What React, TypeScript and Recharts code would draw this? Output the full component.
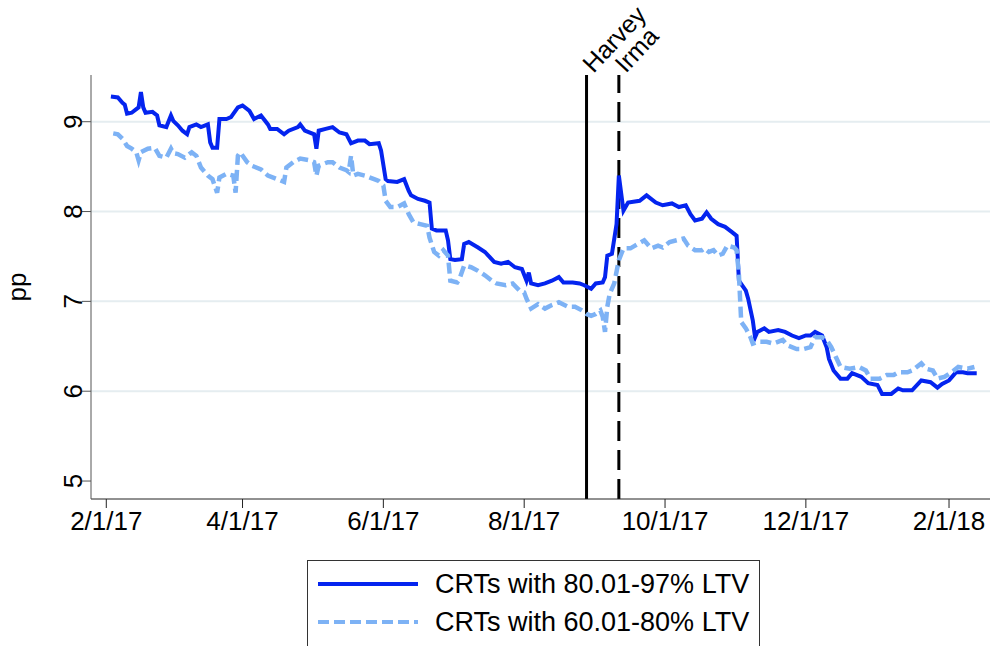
import {
  CartesianGrid,
  Legend,
  Line,
  LineChart,
  ReferenceLine,
  XAxis,
  YAxis,
} from "recharts";

// CRTs with 80.01-97% LTV
const highLtvDates = [
  "2017-02-03", "2017-02-06", "2017-02-08", "2017-02-09", "2017-02-10", "2017-02-12",
  "2017-02-14", "2017-02-15", "2017-02-16", "2017-02-17", "2017-02-18", "2017-02-21",
  "2017-02-23", "2017-02-24", "2017-02-27", "2017-03-01", "2017-03-02", "2017-03-04",
  "2017-03-06", "2017-03-08", "2017-03-09", "2017-03-12", "2017-03-14", "2017-03-17",
  "2017-03-18", "2017-03-19", "2017-03-21", "2017-03-22", "2017-03-25", "2017-03-27",
  "2017-03-30", "2017-04-01", "2017-04-04", "2017-04-06", "2017-04-09", "2017-04-12",
  "2017-04-13", "2017-04-16", "2017-04-19", "2017-04-21", "2017-04-25", "2017-04-26",
  "2017-04-28", "2017-05-02", "2017-05-03", "2017-05-04", "2017-05-07", "2017-05-10",
  "2017-05-13", "2017-05-16", "2017-05-18", "2017-05-21", "2017-05-24", "2017-05-26",
  "2017-05-30", "2017-05-31", "2017-06-02", "2017-06-03", "2017-06-07", "2017-06-10",
  "2017-06-12", "2017-06-13", "2017-06-16", "2017-06-19", "2017-06-21", "2017-06-22",
  "2017-06-24", "2017-06-28", "2017-06-29", "2017-06-30", "2017-07-02", "2017-07-05",
  "2017-07-06", "2017-07-08", "2017-07-12", "2017-07-15", "2017-07-19", "2017-07-22",
  "2017-07-25", "2017-07-28", "2017-07-31", "2017-08-02", "2017-08-03", "2017-08-04",
  "2017-08-07", "2017-08-10", "2017-08-13", "2017-08-16", "2017-08-18", "2017-08-22",
  "2017-08-25", "2017-08-27", "2017-08-30", "2017-09-01", "2017-09-04", "2017-09-05",
  "2017-09-06", "2017-09-08", "2017-09-10", "2017-09-11", "2017-09-13", "2017-09-15",
  "2017-09-20", "2017-09-23", "2017-09-27", "2017-09-30", "2017-10-04", "2017-10-07",
  "2017-10-10", "2017-10-12", "2017-10-14", "2017-10-17", "2017-10-19", "2017-10-21",
  "2017-10-24", "2017-10-27", "2017-10-30", "2017-11-01", "2017-11-02", "2017-11-05",
  "2017-11-06", "2017-11-08", "2017-11-09", "2017-11-10", "2017-11-13", "2017-11-15",
  "2017-11-19", "2017-11-22", "2017-11-25", "2017-11-28", "2017-12-01", "2017-12-03",
  "2017-12-05", "2017-12-08", "2017-12-10", "2017-12-11", "2017-12-13", "2017-12-16",
  "2017-12-19", "2017-12-21", "2017-12-25", "2017-12-28", "2018-01-01", "2018-01-03",
  "2018-01-07", "2018-01-10", "2018-01-12", "2018-01-16", "2018-01-20", "2018-01-24",
  "2018-01-27", "2018-01-29", "2018-02-01", "2018-02-04", "2018-02-07", "2018-02-09",
  "2018-02-13",
];
const highLtvValues = [
  9.28, 9.27, 9.21, 9.19, 9.09, 9.1,
  9.14, 9.16, 9.33, 9.16, 9.1, 9.11,
  9.07, 8.96, 8.94, 9.07, 9.01, 8.96,
  8.9, 8.86, 8.94, 8.97, 8.94, 8.97,
  8.77, 8.71, 8.71, 9.03, 9.03, 9.05,
  9.16, 9.18, 9.12, 9.03, 9.07, 8.97,
  8.92, 8.92, 8.86, 8.9, 8.94, 8.97,
  8.9, 8.86, 8.7, 8.9, 8.92, 8.94,
  8.88, 8.86, 8.76, 8.79, 8.79, 8.75,
  8.76, 8.68, 8.36, 8.34, 8.33, 8.36,
  8.23, 8.18, 8.14, 8.12, 8.1, 7.81,
  7.79, 7.79, 7.68, 7.47, 7.46, 7.47,
  7.64, 7.66, 7.6, 7.55, 7.44, 7.42,
  7.44, 7.38, 7.36, 7.23, 7.32, 7.2,
  7.18, 7.2, 7.23, 7.27, 7.21, 7.21,
  7.2, 7.18, 7.14, 7.2, 7.21, 7.27,
  7.51, 7.53, 7.86, 8.4, 8.01, 8.1,
  8.12, 8.18, 8.1, 8.07, 8.09, 8.05,
  8.07, 7.97, 7.9, 7.92, 7.99, 7.92,
  7.86, 7.83, 7.77, 7.73, 7.23, 7.12,
  7.03, 6.79, 6.6, 6.66, 6.7, 6.66,
  6.68, 6.66, 6.62, 6.59, 6.62, 6.62,
  6.66, 6.62, 6.49, 6.36, 6.23, 6.14,
  6.14, 6.2, 6.16, 6.09, 6.07, 5.97,
  5.97, 6.03, 6.01, 6.01, 6.12, 6.1,
  6.04, 6.08, 6.12, 6.21, 6.21, 6.2,
  6.2,
];

// CRTs with 60.01-80% LTV
const lowLtvDates = [
  "2017-02-04", "2017-02-06", "2017-02-08", "2017-02-10", "2017-02-12", "2017-02-14",
  "2017-02-15", "2017-02-16", "2017-02-19", "2017-02-22", "2017-02-24", "2017-02-27",
  "2017-03-01", "2017-03-02", "2017-03-04", "2017-03-07", "2017-03-10", "2017-03-12",
  "2017-03-14", "2017-03-17", "2017-03-19", "2017-03-21", "2017-03-22", "2017-03-25",
  "2017-03-28", "2017-03-29", "2017-03-30", "2017-03-31", "2017-04-03", "2017-04-05",
  "2017-04-09", "2017-04-12", "2017-04-16", "2017-04-19", "2017-04-20", "2017-04-23",
  "2017-04-26", "2017-04-30", "2017-05-02", "2017-05-03", "2017-05-04", "2017-05-08",
  "2017-05-10", "2017-05-13", "2017-05-16", "2017-05-17", "2017-05-18", "2017-05-19",
  "2017-05-21", "2017-05-24", "2017-05-28", "2017-05-30", "2017-06-01", "2017-06-02",
  "2017-06-04", "2017-06-07", "2017-06-10", "2017-06-12", "2017-06-14", "2017-06-17",
  "2017-06-20", "2017-06-21", "2017-06-23", "2017-06-25", "2017-06-27", "2017-06-29",
  "2017-06-30", "2017-07-03", "2017-07-04", "2017-07-06", "2017-07-09", "2017-07-12",
  "2017-07-15", "2017-07-18", "2017-07-20", "2017-07-24", "2017-07-27", "2017-07-30",
  "2017-08-01", "2017-08-02", "2017-08-04", "2017-08-07", "2017-08-10", "2017-08-13",
  "2017-08-16", "2017-08-20", "2017-08-23", "2017-08-26", "2017-08-28", "2017-08-30",
  "2017-09-01", "2017-09-03", "2017-09-04", "2017-09-05", "2017-09-06", "2017-09-07",
  "2017-09-09", "2017-09-11", "2017-09-13", "2017-09-16", "2017-09-18", "2017-09-22",
  "2017-09-25", "2017-09-28", "2017-09-30", "2017-10-03", "2017-10-06", "2017-10-09",
  "2017-10-11", "2017-10-14", "2017-10-17", "2017-10-18", "2017-10-20", "2017-10-22",
  "2017-10-24", "2017-10-26", "2017-10-28", "2017-10-31", "2017-11-01", "2017-11-02",
  "2017-11-03", "2017-11-05", "2017-11-07", "2017-11-08", "2017-11-10", "2017-11-14",
  "2017-11-17", "2017-11-21", "2017-11-23", "2017-11-27", "2017-11-30", "2017-12-03",
  "2017-12-05", "2017-12-08", "2017-12-10", "2017-12-12", "2017-12-14", "2017-12-16",
  "2017-12-20", "2017-12-24", "2017-12-27", "2017-12-29", "2018-01-02", "2018-01-05",
  "2018-01-08", "2018-01-10", "2018-01-14", "2018-01-16", "2018-01-20", "2018-01-22",
  "2018-01-25", "2018-01-27", "2018-01-30", "2018-02-02", "2018-02-05", "2018-02-09",
  "2018-02-12",
];
const lowLtvValues = [
  8.87, 8.86, 8.81, 8.73, 8.7, 8.66,
  8.57, 8.66, 8.7, 8.71, 8.62, 8.6,
  8.7, 8.65, 8.64, 8.6, 8.66, 8.62,
  8.49, 8.4, 8.36, 8.21, 8.38, 8.42,
  8.4, 8.21, 8.62, 8.66, 8.55, 8.51,
  8.47, 8.4, 8.36, 8.33, 8.49, 8.55,
  8.59, 8.57, 8.55, 8.4, 8.51, 8.55,
  8.55, 8.49, 8.46, 8.44, 8.62, 8.4,
  8.42, 8.4, 8.36, 8.34, 8.29, 8.12,
  8.05, 8.05, 8.09, 7.97, 7.88, 7.86,
  7.84, 7.71, 7.55, 7.51, 7.57, 7.51,
  7.23, 7.21, 7.25, 7.4, 7.38, 7.34,
  7.29, 7.23, 7.2, 7.18, 7.2, 7.12,
  7.1, 7.03, 6.92, 6.97, 6.92, 6.96,
  6.99, 6.94, 6.94, 6.9, 6.86, 6.84,
  6.86, 6.9, 6.83, 6.66, 6.94, 7.08,
  7.2, 7.46, 7.59, 7.59, 7.62, 7.68,
  7.59, 7.62, 7.6, 7.66, 7.68, 7.7,
  7.62, 7.57, 7.57, 7.59, 7.55, 7.57,
  7.51, 7.53, 7.62, 7.6, 7.57, 7.3,
  6.77, 6.7, 6.6, 6.53, 6.55, 6.55,
  6.53, 6.57, 6.51, 6.47, 6.47, 6.49,
  6.6, 6.6, 6.57, 6.49, 6.38, 6.27,
  6.25, 6.27, 6.23, 6.14, 6.14, 6.18,
  6.18, 6.21, 6.21, 6.23, 6.31, 6.25,
  6.23, 6.14, 6.16, 6.21, 6.27, 6.25,
  6.27,
];

const seriesNames = ["CRTs with 80.01-97% LTV", "CRTs with 60.01-80% LTV"];

const xTickDates = [
  "2017-02-01", "2017-04-01", "2017-06-01", "2017-08-01",
  "2017-10-01", "2017-12-01", "2018-02-01",
];
const yTicks = [5, 6, 7, 8, 9];
const gridValues = [6, 7, 8, 9];

const eventNames = ["Harvey", "Irma"];
const eventDates = ["2017-08-28", "2017-09-11"];

const FONT = "'Liberation Sans', Arial, Helvetica, sans-serif";
const DARK = "#0424ef";
const LIGHT = "#7db2f5";

const toTs = (d: string) => Date.parse(d);
const highLtv = highLtvDates.map((d, i) => ({ t: toTs(d), v: highLtvValues[i] }));
const lowLtv = lowLtvDates.map((d, i) => ({ t: toTs(d), v: lowLtvValues[i] }));

// plot region runs a bit before 2/1/17 and past 2/1/18
const xDomain = [Date.UTC(2017, 0, 25, 9), Date.UTC(2018, 1, 18, 18)];

function fmtDate(ts: number) {
  const d = new Date(ts);
  return `${d.getUTCMonth() + 1}/${d.getUTCDate()}/${String(d.getUTCFullYear()).slice(2)}`;
}

function YTick({ x, y, payload }: any) {
  return (
    <text
      x={x}
      y={y}
      transform={`rotate(-90 ${x} ${y})`}
      textAnchor="middle"
      fontSize={26}
      fontFamily={FONT}
      fill="#000"
    >
      {payload.value}
    </text>
  );
}

function YTitle({ viewBox }: any) {
  const x = viewBox.x + 15;
  const y = viewBox.y + viewBox.height / 2;
  return (
    <text
      x={x}
      y={y}
      transform={`rotate(-90 ${x} ${y})`}
      textAnchor="middle"
      fontSize={26}
      fontFamily={FONT}
      fill="#000"
    >
      pp
    </text>
  );
}

function EventLabel({ viewBox, text }: any) {
  const x = viewBox.x + 7;
  const y = viewBox.y - 1;
  return (
    <text
      x={x}
      y={y}
      transform={`rotate(-47 ${x} ${y})`}
      fontSize={25}
      fontFamily={FONT}
      fill="#000"
    >
      {text}
    </text>
  );
}

function LegendBox({ payload }: any) {
  const items = [...(payload ?? [])].sort(
    (a: any, b: any) => seriesNames.indexOf(a.value) - seriesNames.indexOf(b.value),
  );
  return (
    <div
      style={{
        border: "1.5px solid #333",
        background: "#fff",
        width: 453,
        height: 110,
        boxSizing: "border-box",
      }}
    >
      {items.map((entry: any, i: number) => (
        <div
          key={entry.value}
          style={{ display: "flex", alignItems: "center", height: 38, marginTop: i === 0 ? 4 : 0 }}
        >
          <svg width={110} height={10} style={{ marginLeft: 10 }}>
            <line
              x1={0}
              x2={100}
              y1={5}
              y2={5}
              stroke={entry.color}
              strokeWidth={4}
              strokeDasharray={entry.payload?.strokeDasharray}
            />
          </svg>
          <span style={{ fontFamily: FONT, fontSize: 27, color: "#000", marginLeft: 7 }}>
            {entry.value}
          </span>
        </div>
      ))}
    </div>
  );
}

export default function App() {
  return (
    <div style={{ position: "absolute", left: 0, top: 0, background: "#fff" }}>
      <LineChart width={992} height={646} margin={{ top: 75, right: 2, bottom: 87, left: 11 }}>
        <CartesianGrid
          vertical={false}
          horizontalValues={gridValues}
          stroke="#e5edf0"
          strokeWidth={2}
        />
        <XAxis
          dataKey="t"
          type="number"
          domain={xDomain}
          allowDataOverflow
          ticks={xTickDates.map(toTs)}
          tickFormatter={fmtDate}
          height={60}
          tickSize={9}
          tickMargin={4}
          stroke="#222"
          tick={{ fontSize: 26, fontFamily: FONT, fill: "#000" }}
        />
        <YAxis
          type="number"
          domain={[4.8, 9.52]}
          allowDataOverflow
          ticks={yTicks}
          width={80}
          tickSize={9}
          tickMargin={0}
          stroke="#555"
          tick={<YTick />}
          label={<YTitle />}
        />
        {eventNames.map((name, i) => (
          <ReferenceLine
            key={name}
            x={toTs(eventDates[i])}
            stroke="#000"
            strokeWidth={3}
            strokeDasharray={i === 0 ? undefined : "20 9"}
            label={<EventLabel text={name} />}
          />
        ))}
        <Line
          data={highLtv}
          dataKey="v"
          name={seriesNames[0]}
          stroke={DARK}
          strokeWidth={4}
          dot={false}
          isAnimationActive={false}
        />
        <Line
          data={lowLtv}
          dataKey="v"
          name={seriesNames[1]}
          stroke={LIGHT}
          strokeWidth={4.5}
          strokeDasharray="11 5"
          dot={false}
          isAnimationActive={false}
        />
        <Legend
          layout="vertical"
          align="center"
          verticalAlign="middle"
          content={<LegendBox />}
          wrapperStyle={{ left: 307, top: 560, width: 453, height: 110 }}
        />
      </LineChart>
    </div>
  );
}
